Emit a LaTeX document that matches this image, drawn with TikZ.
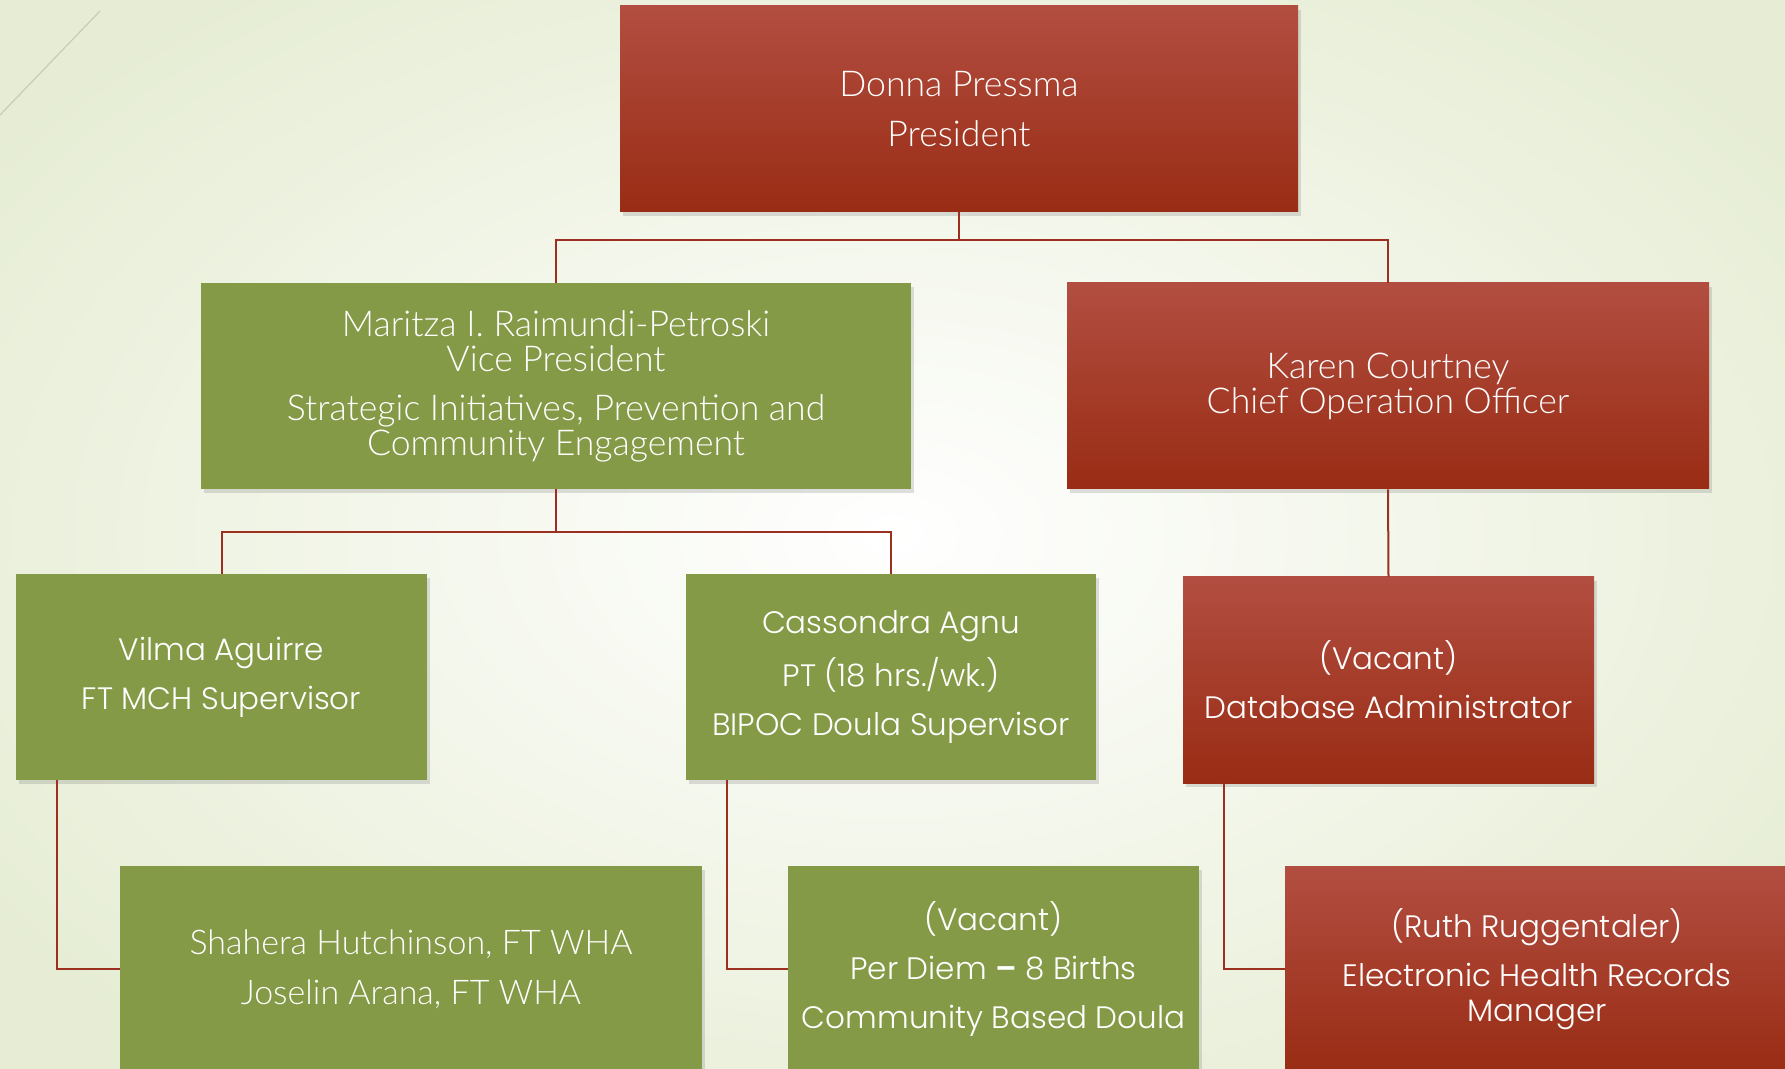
\documentclass[tikz,border=0pt]{standalone}
\usepackage{fontspec}
\setmainfont{Poppins Light}
\newfontfamily\narrowfont{Lato Light}
\usetikzlibrary{shadows,positioning}
\definecolor{orgredtop}{RGB}{178,78,65}
\definecolor{orgred}{RGB}{153,44,20}
\definecolor{orggreen}{RGB}{132,154,70}
\definecolor{orgline}{RGB}{155,48,32}
\definecolor{bgedge}{RGB}{230,237,212}
\definecolor{decoline}{RGB}{200,204,184}
\tikzstyle{box} = [rectangle, minimum height=103pt, inner sep=0pt, align=center, text=white,
  font=\fontsize{15.5}{17.5}\selectfont,
  drop shadow={opacity=0.25, shadow xshift=1.5pt, shadow yshift=-2pt}]
\tikzstyle{redbox} = [box, top color=orgredtop, bottom color=orgred]
\tikzstyle{greenbox} = [box, fill=orggreen]
\tikzstyle{narrow} = [font=\narrowfont\fontsize{17.8}{17.5}\selectfont]
\tikzstyle{link} = [line width=1pt, color=orgline]

\begin{document}
\begin{tikzpicture}[x=0.5pt, y=-0.5pt]
    % Background
    \path[use as bounding box] (0,0) rectangle (1785,1069);
    \clip (0,0) rectangle (1785,1069);
    \shade[inner color=white, outer color=bgedge] (-200,-150) rectangle (1985,1219);
    \draw[decoline, line width=0.6pt] (0,115) -- (100,11);

    % Boxes
    \node[redbox, narrow, minimum width=339pt] (pres) at (959,109) {Donna Pressma\\[7.5pt]President};
    \node[greenbox, narrow, minimum width=355pt] (vp) at (556,386)
        {Maritza I. Raimundi-Petroski\\Vice President\\[7pt]Strategic Initiatives, Prevention and\\Community Engagement};
    \node[redbox, narrow, minimum width=321pt] (coo) at (1388,386) {Karen Courtney\\Chief Operation Officer};
    \node[greenbox, minimum width=205.5pt] (vilma) at (221.5,677) {Vilma Aguirre\\[7pt]FT MCH Supervisor};
    \node[greenbox, minimum width=205pt] (cass) at (891,677)
        {Cassondra Agnu\\[7pt]PT (18 hrs./wk.)\\[7pt]BIPOC Doula Supervisor};
    \node[redbox, minimum width=205.5pt] (db) at (1388.5,680) {(Vacant)\\[7pt]Database Administrator};
    \node[greenbox, narrow, font=\narrowfont\fontsize{17}{17.5}\selectfont, minimum width=291pt] (shah) at (411,969)
        {Shahera Hutchinson, FT WHA\\[7.5pt]Joselin Arana, FT WHA};
    \node[greenbox, minimum width=205.5pt] (doula) at (993.5,969)
        {(Vacant)\\[7pt]Per Diem \textbf{--} 8 Births\\[7pt]Community Based Doula};
    \node[redbox, minimum width=252pt] (ruth) at (1537,969)
        {(Ruth Ruggentaler)\\[7pt]Electronic Health Records\\Manager};

    % Connectors
    \coordinate (bartop) at (0,240);
    \coordinate (barvp) at (0,532);
    \draw[link] (pres.south) -- (pres.south |- bartop) -| (vp.north);
    \draw[link] (pres.south |- bartop) -| (coo.north);
    \draw[link] (vp.south) -- (vp.south |- barvp) -| (vilma.north);
    \draw[link] (vp.south |- barvp) -| (cass.north);
    \draw[link] (coo.south) -- (db.north);
    \draw[link] ([xshift=20.5pt]vilma.south west) |- (shah.west);
    \draw[link] ([xshift=20.5pt]cass.south west) |- (doula.west);
    \draw[link] ([xshift=20.5pt]db.south west) |- (ruth.west);
\end{tikzpicture}
\end{document}
